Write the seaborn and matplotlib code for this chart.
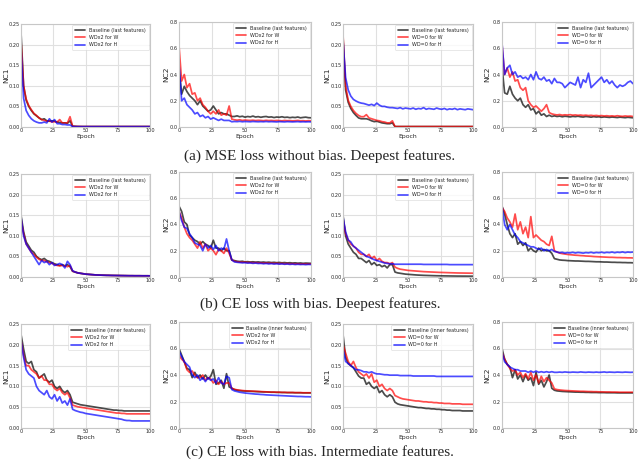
import matplotlib
matplotlib.use("Agg")
import matplotlib.pyplot as plt
import seaborn as sns
from matplotlib.ticker import FormatStrFormatter

EPOCHS = [0, 2, 4, 6, 8, 10, 12, 14, 16, 18, 20, 22, 24, 26, 28, 30, 32, 34, 36, 38, 40,
          42, 44, 46, 48, 50, 52, 54, 56, 58, 60, 62, 64, 66, 68, 70, 72, 74, 76, 78, 80,
          82, 84, 86, 88, 90, 92, 94, 96, 98, 100]

# ---------------- (a) MSE loss without bias, deepest features ----------------
a1_base = [0.230, 0.100, 0.065, 0.050, 0.040, 0.032, 0.027, 0.022, 0.018, 0.020, 0.015, 0.014, 0.015, 0.014, 0.012, 0.011, 0.010, 0.010, 0.009, 0.015, 0.002,
           0.0015, 0.0012, 0.0011, 0.0010, 0.0010, 0.0010, 0.0010, 0.0010, 0.0010, 0.0010,
           0.0010, 0.0010, 0.0010, 0.0010, 0.0010, 0.0010, 0.0010, 0.0010, 0.0010, 0.0010,
           0.0010, 0.0010, 0.0010, 0.0010, 0.0010, 0.0010, 0.0010, 0.0010, 0.0010, 0.0010]
a1_red = [0.210, 0.100, 0.068, 0.052, 0.042, 0.033, 0.028, 0.022, 0.018, 0.016, 0.014, 0.015, 0.012, 0.013, 0.012, 0.018, 0.010, 0.010, 0.010, 0.025, 0.002,
          0.0015, 0.0012, 0.0011, 0.0010, 0.0010, 0.0010, 0.0010, 0.0010, 0.0010, 0.0010,
          0.0010, 0.0010, 0.0010, 0.0010, 0.0010, 0.0010, 0.0010, 0.0010, 0.0010, 0.0010,
          0.0010, 0.0010, 0.0010, 0.0010, 0.0010, 0.0010, 0.0010, 0.0010, 0.0010, 0.0010]
a1_blue = [0.190, 0.070, 0.040, 0.028, 0.020, 0.015, 0.012, 0.010, 0.010, 0.012, 0.010, 0.020, 0.012, 0.018, 0.008, 0.008, 0.006, 0.006, 0.005, 0.005, 0.001,
           0.0009, 0.0008, 0.0008, 0.0008, 0.0008, 0.0008, 0.0008, 0.0008, 0.0008, 0.0008,
           0.0008, 0.0008, 0.0008, 0.0008, 0.0008, 0.0008, 0.0008, 0.0008, 0.0008, 0.0008,
           0.0008, 0.0008, 0.0008, 0.0008, 0.0008, 0.0008, 0.0008, 0.0008, 0.0008, 0.0008]

a2_base = [0.45, 0.25, 0.31, 0.27, 0.24, 0.22, 0.20, 0.17, 0.20, 0.16, 0.14, 0.12, 0.13, 0.16, 0.13, 0.10, 0.11, 0.10, 0.10, 0.09, 0.08,
           0.080, 0.085, 0.078, 0.082, 0.075, 0.080, 0.077, 0.083, 0.076, 0.079,
           0.074, 0.078, 0.080, 0.075, 0.077, 0.072, 0.076, 0.074, 0.078, 0.073,
           0.075, 0.071, 0.074, 0.072, 0.076, 0.070, 0.073, 0.075, 0.071, 0.070]
a2_red = [0.62, 0.35, 0.40, 0.30, 0.33, 0.25, 0.26, 0.20, 0.22, 0.17, 0.15, 0.12, 0.10, 0.12, 0.10, 0.13, 0.09, 0.10, 0.09, 0.16, 0.06,
          0.055, 0.052, 0.055, 0.050, 0.053, 0.051, 0.050, 0.052, 0.049, 0.051,
          0.050, 0.048, 0.051, 0.049, 0.050, 0.048, 0.050, 0.049, 0.047, 0.050,
          0.048, 0.049, 0.047, 0.048, 0.050, 0.047, 0.048, 0.046, 0.048, 0.047]
a2_blue = [0.48, 0.20, 0.22, 0.17, 0.15, 0.13, 0.10, 0.11, 0.08, 0.09, 0.07, 0.08, 0.06, 0.07, 0.06, 0.05, 0.06, 0.05, 0.05, 0.05, 0.04,
           0.042, 0.041, 0.043, 0.040, 0.042, 0.041, 0.040, 0.042, 0.041, 0.040,
           0.041, 0.040, 0.042, 0.040, 0.041, 0.040, 0.039, 0.041, 0.040, 0.039,
           0.041, 0.040, 0.039, 0.040, 0.041, 0.039, 0.040, 0.039, 0.040, 0.039]

a3_base = [0.220, 0.090, 0.060, 0.045, 0.035, 0.028, 0.022, 0.020, 0.020, 0.020, 0.018, 0.015, 0.013, 0.014, 0.012, 0.010, 0.009, 0.008, 0.008, 0.010, 0.001,
           0.0010, 0.0010, 0.0010, 0.0010, 0.0010, 0.0010, 0.0010, 0.0010, 0.0010, 0.0010,
           0.0010, 0.0010, 0.0010, 0.0010, 0.0010, 0.0010, 0.0010, 0.0010, 0.0010, 0.0010,
           0.0010, 0.0010, 0.0010, 0.0010, 0.0010, 0.0010, 0.0010, 0.0010, 0.0010, 0.0010]
a3_red = [0.225, 0.100, 0.065, 0.050, 0.040, 0.033, 0.028, 0.025, 0.025, 0.030, 0.022, 0.020, 0.018, 0.016, 0.015, 0.013, 0.012, 0.010, 0.010, 0.015, 0.001,
          0.0010, 0.0010, 0.0010, 0.0010, 0.0010, 0.0010, 0.0010, 0.0010, 0.0010, 0.0010,
          0.0010, 0.0010, 0.0010, 0.0010, 0.0010, 0.0010, 0.0010, 0.0010, 0.0010, 0.0010,
          0.0010, 0.0010, 0.0010, 0.0010, 0.0010, 0.0010, 0.0010, 0.0010, 0.0010, 0.0010]
a3_blue = [0.210, 0.120, 0.090, 0.075, 0.067, 0.063, 0.060, 0.058, 0.057, 0.055, 0.053, 0.055, 0.052, 0.058, 0.053, 0.050, 0.050, 0.048, 0.047, 0.047, 0.046,
           0.045, 0.047, 0.044, 0.046, 0.045, 0.044, 0.046, 0.043, 0.045, 0.044,
           0.047, 0.043, 0.045, 0.044, 0.043, 0.046, 0.044, 0.043, 0.045, 0.042,
           0.044, 0.043, 0.045, 0.042, 0.044, 0.043, 0.042, 0.044, 0.043, 0.042]

a4_base = [0.46, 0.26, 0.25, 0.31, 0.25, 0.22, 0.20, 0.22, 0.17, 0.15, 0.17, 0.13, 0.14, 0.10, 0.12, 0.09, 0.10, 0.08, 0.09, 0.08, 0.085,
           0.080, 0.083, 0.078, 0.082, 0.080, 0.077, 0.081, 0.079, 0.082, 0.078,
           0.076, 0.080, 0.078, 0.075, 0.079, 0.076, 0.078, 0.074, 0.077, 0.075,
           0.073, 0.076, 0.074, 0.072, 0.075, 0.073, 0.071, 0.074, 0.072, 0.070]
a4_red = [0.63, 0.40, 0.45, 0.38, 0.42, 0.35, 0.36, 0.30, 0.28, 0.30, 0.20, 0.17, 0.15, 0.16, 0.14, 0.12, 0.14, 0.17, 0.11, 0.10, 0.095,
          0.092, 0.095, 0.090, 0.093, 0.091, 0.094, 0.090, 0.092, 0.089, 0.091,
          0.088, 0.090, 0.087, 0.089, 0.086, 0.088, 0.085, 0.087, 0.084, 0.086,
          0.083, 0.085, 0.082, 0.086, 0.083, 0.081, 0.084, 0.082, 0.083, 0.080]
a4_blue = [0.64, 0.40, 0.45, 0.47, 0.40, 0.42, 0.38, 0.39, 0.37, 0.38, 0.36, 0.40, 0.36, 0.42, 0.37, 0.36, 0.38, 0.35, 0.36, 0.33, 0.37,
           0.34, 0.34, 0.33, 0.30, 0.32, 0.34, 0.33, 0.32, 0.38, 0.30,
           0.36, 0.34, 0.41, 0.30, 0.32, 0.34, 0.36, 0.38, 0.34, 0.36,
           0.33, 0.35, 0.32, 0.30, 0.32, 0.31, 0.32, 0.34, 0.35, 0.33]

# ---------------- (b) CE loss with bias, deepest features ----------------
b1_base = [0.150, 0.110, 0.085, 0.075, 0.065, 0.060, 0.050, 0.045, 0.042, 0.045, 0.040, 0.038, 0.035, 0.032, 0.030, 0.028, 0.030, 0.027, 0.030, 0.025, 0.014,
           0.012, 0.010, 0.009, 0.008, 0.007, 0.0065, 0.006, 0.0055, 0.005, 0.0048,
           0.0045, 0.0043, 0.0041, 0.0040, 0.0038, 0.0037, 0.0036, 0.0035, 0.0034, 0.0033,
           0.0032, 0.0031, 0.0031, 0.0030, 0.0030, 0.0030, 0.0029, 0.0029, 0.0029, 0.0028]
b1_red = [0.140, 0.105, 0.080, 0.070, 0.060, 0.055, 0.048, 0.043, 0.040, 0.040, 0.037, 0.035, 0.033, 0.030, 0.028, 0.027, 0.028, 0.027, 0.025, 0.028, 0.014,
          0.012, 0.010, 0.009, 0.008, 0.007, 0.0065, 0.006, 0.0055, 0.005, 0.0048,
          0.0045, 0.0043, 0.0041, 0.0040, 0.0038, 0.0037, 0.0036, 0.0035, 0.0034, 0.0033,
          0.0032, 0.0031, 0.0031, 0.0030, 0.0030, 0.0030, 0.0029, 0.0029, 0.0029, 0.0028]
b1_blue = [0.145, 0.100, 0.080, 0.070, 0.060, 0.050, 0.040, 0.030, 0.040, 0.035, 0.038, 0.030, 0.035, 0.028, 0.030, 0.033, 0.030, 0.022, 0.038, 0.030, 0.015,
           0.012, 0.010, 0.009, 0.008, 0.007, 0.0065, 0.006, 0.0055, 0.005, 0.0048,
           0.0045, 0.0043, 0.0041, 0.0040, 0.0038, 0.0037, 0.0036, 0.0035, 0.0034, 0.0033,
           0.0032, 0.0031, 0.0031, 0.0030, 0.0030, 0.0030, 0.0029, 0.0029, 0.0029, 0.0028]

b2_base = [0.54, 0.50, 0.42, 0.40, 0.32, 0.30, 0.28, 0.27, 0.25, 0.27, 0.25, 0.24, 0.22, 0.28, 0.22, 0.22, 0.20, 0.22, 0.20, 0.20, 0.13,
           0.125, 0.120, 0.118, 0.120, 0.115, 0.117, 0.114, 0.116, 0.113, 0.115,
           0.112, 0.114, 0.111, 0.113, 0.110, 0.112, 0.109, 0.111, 0.108, 0.110,
           0.107, 0.109, 0.106, 0.108, 0.105, 0.107, 0.104, 0.106, 0.105, 0.104]
b2_red = [0.50, 0.45, 0.38, 0.33, 0.30, 0.28, 0.25, 0.22, 0.27, 0.22, 0.25, 0.20, 0.22, 0.20, 0.17, 0.21, 0.20, 0.18, 0.22, 0.18, 0.13,
          0.120, 0.116, 0.114, 0.112, 0.113, 0.110, 0.111, 0.108, 0.110, 0.107,
          0.108, 0.105, 0.107, 0.104, 0.106, 0.103, 0.105, 0.102, 0.104, 0.101,
          0.103, 0.100, 0.102, 0.099, 0.101, 0.098, 0.100, 0.099, 0.098, 0.100]
b2_blue = [0.50, 0.43, 0.38, 0.37, 0.33, 0.30, 0.26, 0.25, 0.24, 0.20, 0.25, 0.22, 0.24, 0.21, 0.24, 0.20, 0.22, 0.21, 0.29, 0.20, 0.13,
           0.115, 0.112, 0.110, 0.108, 0.109, 0.106, 0.107, 0.104, 0.106, 0.103,
           0.104, 0.101, 0.103, 0.100, 0.102, 0.099, 0.101, 0.098, 0.100, 0.097,
           0.099, 0.096, 0.098, 0.095, 0.097, 0.095, 0.096, 0.094, 0.096, 0.095]

b3_base = [0.150, 0.100, 0.080, 0.070, 0.060, 0.055, 0.045, 0.045, 0.040, 0.035, 0.040, 0.030, 0.035, 0.028, 0.030, 0.025, 0.028, 0.022, 0.030, 0.030, 0.012,
           0.010, 0.009, 0.008, 0.007, 0.0065, 0.006, 0.0055, 0.005, 0.0046, 0.0043,
           0.0040, 0.0038, 0.0036, 0.0034, 0.0032, 0.0030, 0.0029, 0.0028, 0.0027, 0.0026,
           0.0025, 0.0024, 0.0023, 0.0022, 0.0022, 0.0021, 0.0021, 0.0020, 0.0020, 0.0020]
b3_red = [0.140, 0.105, 0.090, 0.080, 0.075, 0.070, 0.060, 0.055, 0.055, 0.050, 0.055, 0.045, 0.050, 0.040, 0.045, 0.038, 0.035, 0.035, 0.032, 0.035, 0.024,
          0.021, 0.019, 0.018, 0.017, 0.016, 0.0155, 0.015, 0.0145, 0.014, 0.0135,
          0.013, 0.0127, 0.0124, 0.0121, 0.0118, 0.0115, 0.0112, 0.011, 0.0108, 0.0106,
          0.0104, 0.0102, 0.010, 0.0098, 0.0097, 0.0096, 0.0095, 0.0094, 0.0093, 0.0092]
b3_blue = [0.145, 0.110, 0.090, 0.085, 0.075, 0.070, 0.065, 0.060, 0.055, 0.050, 0.048, 0.045, 0.042, 0.040, 0.038, 0.036, 0.034, 0.033, 0.032, 0.032, 0.031,
           0.031, 0.031, 0.031, 0.031, 0.031, 0.031, 0.031, 0.031, 0.031, 0.031,
           0.0305, 0.0305, 0.0305, 0.0305, 0.0305, 0.0305, 0.0305, 0.0305, 0.0305, 0.0305,
           0.030, 0.030, 0.030, 0.030, 0.030, 0.030, 0.030, 0.030, 0.030, 0.030]

b4_base = [0.54, 0.48, 0.40, 0.33, 0.30, 0.33, 0.25, 0.27, 0.24, 0.26, 0.20, 0.22, 0.20, 0.19, 0.22, 0.20, 0.21, 0.20, 0.20, 0.18, 0.14,
           0.135, 0.130, 0.128, 0.127, 0.125, 0.124, 0.123, 0.122, 0.122, 0.121,
           0.120, 0.119, 0.119, 0.118, 0.117, 0.116, 0.116, 0.115, 0.114, 0.114,
           0.113, 0.112, 0.112, 0.111, 0.111, 0.110, 0.110, 0.109, 0.109, 0.108]
b4_red = [0.53, 0.50, 0.45, 0.42, 0.38, 0.48, 0.36, 0.42, 0.33, 0.38, 0.30, 0.46, 0.30, 0.32, 0.30, 0.28, 0.27, 0.25, 0.24, 0.31, 0.20,
          0.190, 0.182, 0.178, 0.175, 0.172, 0.170, 0.168, 0.166, 0.165, 0.163,
          0.162, 0.160, 0.159, 0.158, 0.156, 0.155, 0.154, 0.153, 0.152, 0.151,
          0.150, 0.150, 0.149, 0.148, 0.148, 0.147, 0.147, 0.146, 0.146, 0.145]
b4_blue = [0.54, 0.40, 0.36, 0.40, 0.36, 0.32, 0.30, 0.27, 0.26, 0.25, 0.24, 0.23, 0.23, 0.22, 0.21, 0.22, 0.20, 0.21, 0.20, 0.21, 0.195,
           0.190, 0.185, 0.188, 0.182, 0.186, 0.184, 0.188, 0.183, 0.187, 0.185,
           0.182, 0.186, 0.184, 0.188, 0.183, 0.187, 0.185, 0.189, 0.184, 0.188,
           0.186, 0.190, 0.185, 0.189, 0.187, 0.191, 0.186, 0.190, 0.188, 0.190]

# ---------------- (c) CE loss with bias, intermediate features ----------------
c1_base = [0.225, 0.190, 0.160, 0.155, 0.160, 0.140, 0.135, 0.120, 0.125, 0.130, 0.115, 0.110, 0.115, 0.100, 0.095, 0.100, 0.090, 0.085, 0.090, 0.080, 0.062,
           0.060, 0.058, 0.056, 0.055, 0.054, 0.053, 0.052, 0.051, 0.050, 0.049,
           0.048, 0.047, 0.046, 0.045, 0.044, 0.043, 0.043, 0.042, 0.042, 0.041,
           0.041, 0.041, 0.041, 0.041, 0.041, 0.041, 0.041, 0.041, 0.041, 0.041]
c1_red = [0.210, 0.175, 0.150, 0.150, 0.140, 0.135, 0.130, 0.120, 0.125, 0.115, 0.115, 0.105, 0.105, 0.095, 0.090, 0.095, 0.085, 0.080, 0.085, 0.072, 0.055,
          0.053, 0.051, 0.050, 0.049, 0.048, 0.047, 0.046, 0.045, 0.044, 0.043,
          0.042, 0.041, 0.040, 0.039, 0.038, 0.037, 0.036, 0.036, 0.035, 0.035,
          0.034, 0.034, 0.034, 0.034, 0.034, 0.034, 0.034, 0.034, 0.034, 0.034]
c1_blue = [0.210, 0.170, 0.140, 0.130, 0.125, 0.120, 0.100, 0.090, 0.085, 0.080, 0.090, 0.075, 0.070, 0.080, 0.065, 0.075, 0.060, 0.065, 0.055, 0.070, 0.045,
           0.042, 0.040, 0.038, 0.037, 0.035, 0.034, 0.033, 0.032, 0.031, 0.030,
           0.029, 0.028, 0.027, 0.026, 0.025, 0.024, 0.023, 0.022, 0.021, 0.019,
           0.018, 0.018, 0.017, 0.017, 0.017, 0.017, 0.017, 0.017, 0.017, 0.017]

c2_base = [0.60, 0.55, 0.50, 0.45, 0.44, 0.38, 0.42, 0.38, 0.40, 0.37, 0.40, 0.37, 0.39, 0.44, 0.33, 0.34, 0.36, 0.30, 0.41, 0.31, 0.30,
           0.290, 0.285, 0.282, 0.280, 0.279, 0.278, 0.277, 0.276, 0.275, 0.274,
           0.273, 0.272, 0.272, 0.271, 0.270, 0.270, 0.269, 0.269, 0.268, 0.268,
           0.267, 0.267, 0.267, 0.266, 0.266, 0.266, 0.265, 0.265, 0.265, 0.265]
c2_red = [0.55, 0.52, 0.50, 0.44, 0.42, 0.43, 0.40, 0.38, 0.38, 0.40, 0.36, 0.38, 0.37, 0.34, 0.36, 0.33, 0.35, 0.33, 0.34, 0.34, 0.30,
          0.292, 0.288, 0.285, 0.283, 0.281, 0.280, 0.279, 0.278, 0.277, 0.276,
          0.275, 0.274, 0.273, 0.272, 0.271, 0.271, 0.270, 0.270, 0.269, 0.269,
          0.268, 0.268, 0.268, 0.267, 0.267, 0.267, 0.266, 0.266, 0.266, 0.266]
c2_blue = [0.58, 0.54, 0.50, 0.48, 0.46, 0.40, 0.38, 0.40, 0.36, 0.38, 0.35, 0.38, 0.36, 0.37, 0.34, 0.38, 0.34, 0.33, 0.39, 0.38, 0.29,
           0.280, 0.275, 0.270, 0.267, 0.264, 0.262, 0.260, 0.258, 0.256, 0.255,
           0.253, 0.252, 0.250, 0.249, 0.248, 0.247, 0.246, 0.245, 0.244, 0.243,
           0.242, 0.241, 0.240, 0.239, 0.238, 0.238, 0.237, 0.236, 0.236, 0.235]

c3_base = [0.225, 0.170, 0.155, 0.150, 0.145, 0.135, 0.125, 0.120, 0.120, 0.105, 0.110, 0.100, 0.095, 0.100, 0.085, 0.090, 0.080, 0.075, 0.080, 0.075, 0.062,
           0.058, 0.056, 0.055, 0.054, 0.053, 0.052, 0.051, 0.050, 0.049, 0.049,
           0.048, 0.047, 0.047, 0.046, 0.046, 0.045, 0.045, 0.044, 0.044, 0.043,
           0.043, 0.042, 0.042, 0.042, 0.042, 0.041, 0.041, 0.041, 0.041, 0.041]
c3_red = [0.200, 0.180, 0.160, 0.150, 0.160, 0.145, 0.135, 0.130, 0.125, 0.130, 0.120, 0.130, 0.110, 0.115, 0.100, 0.105, 0.095, 0.090, 0.095, 0.090, 0.078,
          0.075, 0.072, 0.070, 0.069, 0.068, 0.067, 0.066, 0.065, 0.065, 0.064,
          0.063, 0.063, 0.062, 0.062, 0.061, 0.061, 0.060, 0.060, 0.059, 0.059,
          0.059, 0.058, 0.058, 0.058, 0.058, 0.057, 0.057, 0.057, 0.057, 0.057]
c3_blue = [0.190, 0.160, 0.155, 0.150, 0.145, 0.140, 0.140, 0.138, 0.135, 0.135, 0.133, 0.135, 0.132, 0.130, 0.130, 0.129, 0.128, 0.128, 0.127, 0.127, 0.127,
           0.127, 0.126, 0.126, 0.126, 0.126, 0.126, 0.125, 0.125, 0.125, 0.125,
           0.125, 0.125, 0.125, 0.125, 0.125, 0.124, 0.124, 0.124, 0.124, 0.124,
           0.124, 0.124, 0.124, 0.124, 0.124, 0.124, 0.124, 0.124, 0.124, 0.124]

c4_base = [0.60, 0.52, 0.48, 0.46, 0.38, 0.44, 0.37, 0.40, 0.35, 0.40, 0.36, 0.38, 0.32, 0.42, 0.33, 0.36, 0.31, 0.35, 0.40, 0.30, 0.285,
           0.280, 0.278, 0.276, 0.275, 0.274, 0.273, 0.272, 0.271, 0.271, 0.270,
           0.270, 0.269, 0.269, 0.268, 0.268, 0.268, 0.267, 0.267, 0.267, 0.266,
           0.266, 0.266, 0.266, 0.265, 0.265, 0.265, 0.265, 0.265, 0.265, 0.265]
c4_red = [0.57, 0.52, 0.48, 0.45, 0.43, 0.44, 0.40, 0.42, 0.38, 0.41, 0.37, 0.42, 0.36, 0.40, 0.34, 0.39, 0.35, 0.38, 0.36, 0.34, 0.295,
          0.290, 0.287, 0.285, 0.283, 0.282, 0.281, 0.280, 0.279, 0.278, 0.277,
          0.277, 0.276, 0.275, 0.275, 0.274, 0.274, 0.273, 0.273, 0.272, 0.272,
          0.272, 0.271, 0.271, 0.271, 0.270, 0.270, 0.270, 0.270, 0.270, 0.270]
c4_blue = [0.57, 0.50, 0.48, 0.46, 0.45, 0.44, 0.44, 0.43, 0.43, 0.43, 0.42, 0.43, 0.42, 0.43, 0.42, 0.425, 0.42, 0.425, 0.42, 0.425, 0.42,
           0.420, 0.422, 0.420, 0.423, 0.421, 0.420, 0.422, 0.421, 0.420, 0.423,
           0.421, 0.420, 0.422, 0.421, 0.420, 0.422, 0.420, 0.421, 0.423, 0.420,
           0.422, 0.421, 0.420, 0.422, 0.421, 0.420, 0.422, 0.421, 0.420, 0.421]

LABELS_WDX2_LAST = ["Baseline (last features)", "WDx2 for W", "WDx2 for H"]
LABELS_WD0_LAST = ["Baseline (last features)", "WD=0 for W", "WD=0 for H"]
LABELS_WDX2_INNER = ["Baseline (inner features)", "WDx2 for W", "WDx2 for H"]
LABELS_WD0_INNER = ["Baseline (inner features)", "WD=0 for W", "WD=0 for H"]
CAPTIONS = ["(a) MSE loss without bias. Deepest features.",
            "(b) CE loss with bias. Deepest features.",
            "(c) CE loss with bias. Intermediate features."]
COLORS = ["black", "red", "blue"]

sns.set_style("whitegrid", {"axes.edgecolor": ".78", "grid.color": ".88",
                            "axes.linewidth": 0.8})

fig = plt.figure(figsize=(6.4, 4.66), dpi=100)
W, H = 640.0, 466.0

COLS = [(21, 150), (179, 311), (343, 473), (502, 633)]
LABEL_X = [6, 166, 327, 487]
TOPS_NC1 = [24, 174, 324]
TOPS_NC2 = [22, 172, 322]
BOTTOMS = [127, 277, 428]

panels = [
    [([a1_base, a1_red, a1_blue], LABELS_WDX2_LAST, "NC1"),
     ([a2_base, a2_red, a2_blue], LABELS_WDX2_LAST, "NC2"),
     ([a3_base, a3_red, a3_blue], LABELS_WD0_LAST, "NC1"),
     ([a4_base, a4_red, a4_blue], LABELS_WD0_LAST, "NC2")],
    [([b1_base, b1_red, b1_blue], LABELS_WDX2_LAST, "NC1"),
     ([b2_base, b2_red, b2_blue], LABELS_WDX2_LAST, "NC2"),
     ([b3_base, b3_red, b3_blue], LABELS_WD0_LAST, "NC1"),
     ([b4_base, b4_red, b4_blue], LABELS_WD0_LAST, "NC2")],
    [([c1_base, c1_red, c1_blue], LABELS_WDX2_INNER, "NC1"),
     ([c2_base, c2_red, c2_blue], LABELS_WDX2_INNER, "NC2"),
     ([c3_base, c3_red, c3_blue], LABELS_WD0_INNER, "NC1"),
     ([c4_base, c4_red, c4_blue], LABELS_WD0_INNER, "NC2")],
]

for r, row in enumerate(panels):
    for c, (series, labels, ylab) in enumerate(row):
        left, right = COLS[c]
        top = TOPS_NC1[r] if ylab == "NC1" else TOPS_NC2[r]
        bottom = BOTTOMS[r]
        ax = fig.add_axes([left / W, 1 - bottom / H, (right - left) / W, (bottom - top) / H])
        for y, lab, col in zip(series, labels, COLORS):
            n = min(len(y), len(EPOCHS))
            sns.lineplot(x=EPOCHS[:n], y=y[:n], ax=ax, color=col, alpha=0.7,
                         linewidth=1.25, label=lab)
        ax.set_xlim(0, 100)
        ax.set_xticks([0, 25, 50, 75, 100])
        if ylab == "NC1":
            ax.set_ylim(0, 0.25)
            ax.set_yticks([0, 0.05, 0.10, 0.15, 0.20, 0.25])
            ax.yaxis.set_major_formatter(FormatStrFormatter("%.2f"))
        else:
            ax.set_ylim(0, 0.8)
            ax.set_yticks([0, 0.2, 0.4, 0.6, 0.8])
            ax.yaxis.set_major_formatter(FormatStrFormatter("%.1f"))
        ax.tick_params(labelsize=3.6, pad=1, length=0)
        ax.set_xlabel("Epoch", fontsize=4.4, labelpad=0.5)
        ax.set_ylabel(ylab, fontsize=5.4)
        ax.yaxis.set_label_coords((LABEL_X[c] - left) / (right - left), 0.5)
        ax.yaxis.label.set_va("center")
        leg = ax.legend(loc="upper right", fontsize=3.5, frameon=True,
                        handlelength=2.2, borderpad=0.5, labelspacing=0.45,
                        handletextpad=0.8, borderaxespad=0.3, fancybox=True)
        leg.get_frame().set_linewidth(0.4)
        leg.get_frame().set_edgecolor(".8")

CAP_Y = [156, 304, 452]
for txt, yy in zip(CAPTIONS, CAP_Y):
    fig.text(0.5, 1 - yy / H, txt, ha="center", va="center",
             fontsize=11, family="Liberation Serif")

fig.savefig("out.png", dpi=100)
